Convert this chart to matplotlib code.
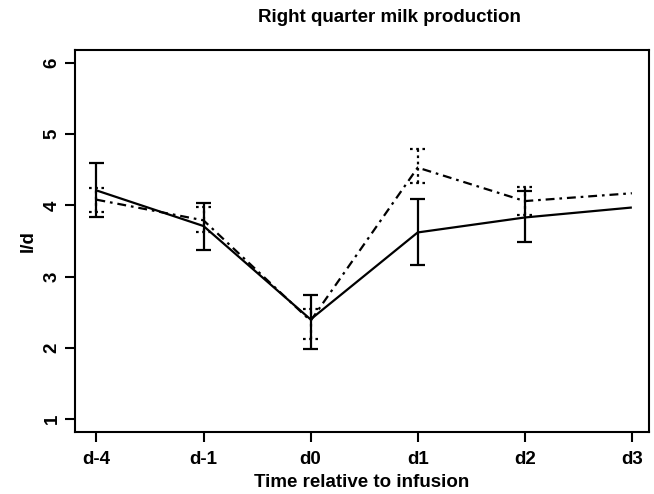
import matplotlib
matplotlib.use("Agg")
import matplotlib.pyplot as plt
import numpy as np

days = ["d-4", "d-1", "d0", "d1", "d2", "d3"]
solid_mean = [4.21, 3.71, 2.40, 3.62, 3.83, 3.97]
solid_lower = [3.83, 3.37, 1.99, 3.16, 3.48, np.nan]
solid_upper = [4.60, 4.03, 2.74, 4.09, 4.20, np.nan]
dash_mean = [4.08, 3.79, 2.38, 4.53, 4.06, 4.17]
dash_lower = [3.91, 3.62, 2.13, 4.32, 3.86, np.nan]
dash_upper = [4.24, 3.98, 2.55, 4.79, 4.26, np.nan]
yticks = [1, 2, 3, 4, 5, 6]

plt.rcParams['font.family'] = ['Liberation Sans', 'DejaVu Sans']
plt.rcParams['font.weight'] = 'bold'

fig = plt.figure(figsize=(6.54, 4.94), dpi=100)
ax = fig.add_axes([75/654, 1-432/494, (649-75)/654, (432-50)/494])

x = np.arange(1, len(days) + 1)
lw = 1.6
cap = 0.068

# solid series
ax.plot(x, solid_mean, color='black', lw=lw, solid_capstyle='butt')
sl = np.array(solid_lower); su = np.array(solid_upper)
m = ~np.isnan(sl)
ax.vlines(x[m], sl[m], su[m], color='black', lw=lw)
ax.hlines(sl[m], x[m]-cap, x[m]+cap, color='black', lw=lw)
ax.hlines(su[m], x[m]-cap, x[m]+cap, color='black', lw=lw)

# dash-dot series
ax.plot(x, dash_mean, color='black', lw=lw, linestyle=(0, (4, 2.2, 1.2, 2.2)),
        dash_capstyle='butt')
dl = np.array(dash_lower); du = np.array(dash_upper)
m2 = ~np.isnan(dl)
dot = (0, (1.2, 1.6))
ax.vlines(x[m2], dl[m2], du[m2], color='black', lw=lw, linestyles=[dot])
ax.hlines(dl[m2], x[m2]-cap, x[m2]+cap, color='black', lw=lw, linestyles=[dot])
ax.hlines(du[m2], x[m2]-cap, x[m2]+cap, color='black', lw=lw, linestyles=[dot])

ax.set_xlim(0.8, 6.16)
ax.set_ylim(0.82, 6.18)
ax.set_xticks(x)
ax.set_xticklabels(days, fontsize=13.5, fontweight='bold')
ax.set_yticks(yticks)
ax.set_yticklabels([str(v) for v in yticks], fontsize=13.5, fontweight='bold',
                   rotation=90, va='center')
ax.tick_params(axis='both', length=7, width=1.5)
ax.tick_params(axis='x', pad=7)
ax.tick_params(axis='y', pad=3.5)
for s in ax.spines.values():
    s.set_linewidth(1.5)

ax.set_xlabel("Time relative to infusion", fontsize=13.5, fontweight='bold', labelpad=4)
ax.set_ylabel("l/d", fontsize=13.5, fontweight='bold', labelpad=5)
fig.text(389/654, 1-18/494, "Right quarter milk production", ha='center', va='center',
         fontsize=13.5, fontweight='bold')

fig.savefig("out.png", dpi=100)
